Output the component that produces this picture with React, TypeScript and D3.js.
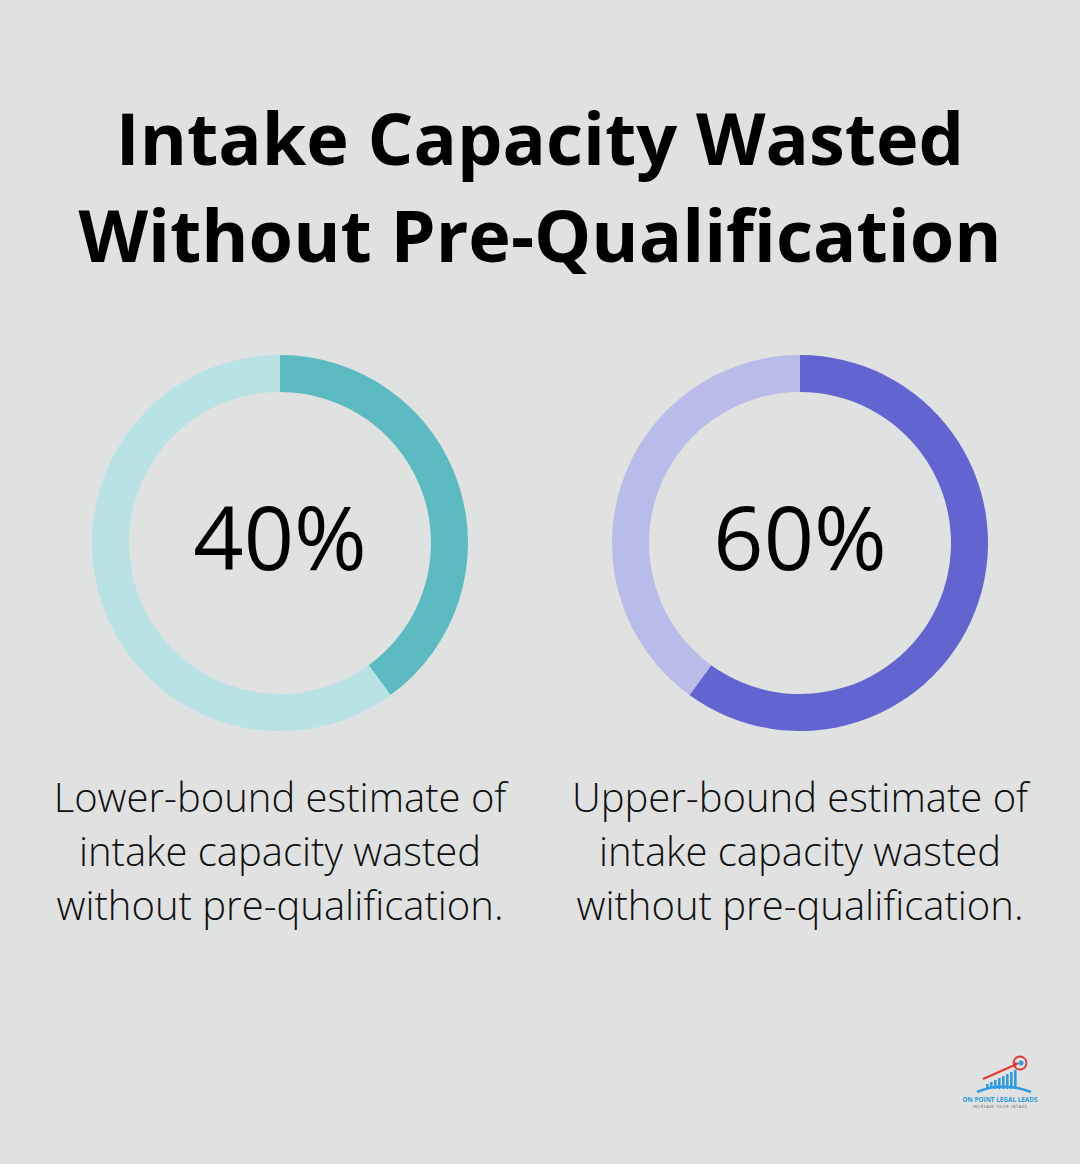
import React from "react";
import * as d3 from "d3";

const W = 1080;
const H = 1164;

const titleLines = ["Intake Capacity Wasted", "Without Pre-Qualification"];
const percentValues = [40, 60];
const percentLabels = ["40%", "60%"];
const descriptions = [
  ["Lower-bound estimate of", "intake capacity wasted", "without pre-qualification."],
  ["Upper-bound estimate of", "intake capacity wasted", "without pre-qualification."],
];
const mainColors = ["#5BBBC0", "#6264D0"];
const restColors = ["#B9E2E4", "#B9BBE8"];

const centersX = [280, 800];
const centerY = 543;
const outerR = 188;
const innerR = 151;

function Donut({ i }: { i: number }) {
  const pie = d3.pie<number>().sort(null).value((d) => d);
  const arcs = pie([percentValues[i], 100 - percentValues[i]]);
  const arc = d3.arc<d3.PieArcDatum<number>>().innerRadius(innerR).outerRadius(outerR);
  return (
    <g transform={`translate(${centersX[i]},${centerY})`}>
      {arcs.map((a, k) => (
        <path key={k} d={arc(a) || ""} fill={k === 0 ? mainColors[i] : restColors[i]} />
      ))}
      <text
        x={0}
        y={27}
        textAnchor="middle"
        fontFamily="'Open Sans', sans-serif"
        fontSize={88}
        fill="#000"
      >
        {percentLabels[i]}
      </text>
    </g>
  );
}

function Logo() {
  const bars = [5, 7, 9, 11, 13, 15, 17, 19];
  return (
    <g transform="translate(963,1054)">
      {bars.map((h, k) => (
        <rect key={k} x={23 + k * 4} y={35 - h} width={2.6} height={h} fill="#2F9BE0" />
      ))}
      <path d="M14 38 Q40 27 68 38" stroke="#2F9BE0" strokeWidth={2.5} fill="none" />
      <path d="M20 25 L54 10" stroke="#E53935" strokeWidth={2} />
      <path d="M56 9 L50 8 L52 13 Z" fill="#E53935" />
      <circle cx={57} cy={9} r={6.5} stroke="#E53935" strokeWidth={1.8} fill="none" />
      <circle cx={58} cy={9} r={2.5} fill="#2F9BE0" />
      <text x={37} y={48} textAnchor="middle" fontFamily="'Open Sans', sans-serif" fontWeight={700} fontSize={6.4} fill="#2F9BE0">
        ON POINT LEGAL LEADS
      </text>
      <text x={37} y={54} textAnchor="middle" fontFamily="'Open Sans', sans-serif" fontSize={3.5} fill="#555" letterSpacing={0.8}>
        INCREASE YOUR INTAKE
      </text>
    </g>
  );
}

export default function App() {
  return (
    <svg width={W} height={H} style={{ display: "block", position: "absolute", left: 0, top: 0 }}>
      <rect x={0} y={0} width={W} height={H} fill="#E0E2E1" />
      {titleLines.map((t, k) => (
        <text
          key={k}
          x={W / 2}
          y={165 + k * 97}
          textAnchor="middle"
          fontFamily="'Open Sans', sans-serif"
          fontWeight={700}
          fontSize={72}
          fill="#000"
        >
          {t}
        </text>
      ))}
      {percentValues.map((_, i) => (
        <Donut key={i} i={i} />
      ))}
      {descriptions.map((lines, i) =>
        lines.map((l, k) => (
          <text
            key={`${i}-${k}`}
            x={centersX[i]}
            y={812 + k * 54}
            textAnchor="middle"
            fontFamily="'Open Sans', sans-serif"
            fontWeight={300}
            fontSize={40}
            fill="#111"
          >
            {l}
          </text>
        ))
      )}
      <Logo />
    </svg>
  );
}
